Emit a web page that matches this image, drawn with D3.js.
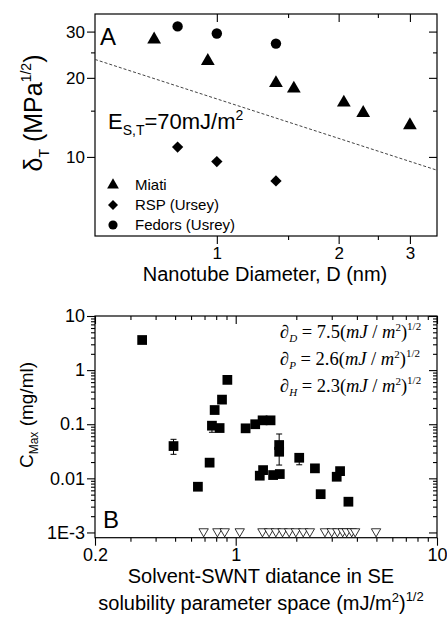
<!DOCTYPE html>
<html lang="en">
  <head>
    <meta charset="UTF-8" />
    <title>Solubility parameters of SWNT</title>
    <style>
      body {
        margin: 0;
        background: white;
      }
      svg {
        display: block;
        font-family: "Liberation Sans", Arial, sans-serif;
      }
      .frame {
        fill: none;
        stroke: black;
        stroke-width: 1.2;
      }
      .tick line {
        stroke: black;
        stroke-width: 1.1;
      }
      .fit-line {
        fill: none;
        stroke: #444;
        stroke-width: 1;
        stroke-dasharray: 3, 2;
      }
      .formula {
        font-family: "Liberation Serif", "Times New Roman", serif;
        font-size: 18.5px;
      }
    </style>
  </head>
  <body>
    <script src="https://d3js.org/d3.v7.min.js"></script>
    <script>
      // panel A : solubility parameter vs nanotube diameter
      const miatiD = [0.7, 0.95, 1.4, 1.55, 2.06, 2.3, 3.0];
      const miatiDelta = [28.0, 23.2, 19.1, 18.2, 16.1, 14.7, 13.2];
      const rspD = [0.8, 1.0, 1.4];
      const rspDelta = [10.9, 9.6, 8.1];
      const fedorsD = [0.8, 1.0, 1.4];
      const fedorsDelta = [31.4, 29.5, 27.0];
      const fitD = [0.5, 3.5];
      const fitDelta = [23.5, 8.9];
      const legendNames = ["Miati", "RSP (Ursey)", "Fedors (Usrey)"];
      const xTicksA = [1, 2, 3];
      const xMinorA = [1.5, 2.5];
      const yTicksA = [10, 20, 30];
      const yMinorA = [15, 25];

      // panel B : max concentration vs distance in solubility space
      const distB = [
        0.343, 0.491, 0.649, 0.742, 0.762, 0.786, 0.832, 0.855, 0.909, 1.12,
        1.25, 1.36, 1.49, 1.317, 1.368, 1.534, 1.656, 1.644, 1.644, 2.068,
        2.475, 2.643, 3.175, 3.3, 3.63,
      ];
      const cmaxB = [
        3.6, 0.0395, 0.007, 0.0195, 0.094, 0.183, 0.085, 0.285, 0.66, 0.084,
        0.1, 0.118, 0.118, 0.0112, 0.0142, 0.0115, 0.012, 0.0413, 0.031, 0.024,
        0.0153, 0.0051, 0.0107, 0.0136, 0.0037,
      ];
      const errX = [0.491, 0.762, 1.644, 2.068];
      const errLo = [0.0278, 0.071, 0.0176, 0.0178];
      const errHi = [0.0526, 0.111, 0.066, 0.026];
      const noneX = [
        0.693, 0.811, 0.882, 1.047, 1.358, 1.465, 1.583, 1.709, 1.843, 1.99,
        2.164, 2.336, 2.776, 3.0, 3.2, 3.4, 3.56, 3.77, 3.92, 4.98,
      ];
      const noneY = 0.001;
      const xTicksB = [0.2, 1, 10];
      const yTicksB = [10, 1, 0.1, 0.01, 0.001];
      const yLabelsB = ["10", "1", "0.1", "0.01", "1E-3"];
      const formulas = [
        { sym: "D", val: "7.5" },
        { sym: "P", val: "2.6" },
        { sym: "H", val: "2.3" },
      ];

      const width = 447;
      const height = 622;

      const svg = d3
        .select("body")
        .append("svg")
        .attr("width", width)
        .attr("height", height);

      // draws ticks on all four sides: outward on left/bottom, inward on top/right
      function drawAxes(g, x, y, xMaj, xMin, yMaj, yMin, xFmt, yFmt, fs) {
        const [x0, x1] = x.range();
        const [y0, y1] = y.range();

        const styleAxis = (sel) => {
          sel.select(".domain").remove();
          sel.selectAll("text").attr("font-size", fs).attr("fill", "black");
        };

        g.append("g")
          .attr("transform", `translate(0, ${y0})`)
          .call(d3.axisBottom(x).tickValues(xMaj).tickSize(8).tickPadding(3).tickFormat(xFmt))
          .call(styleAxis);
        g.append("g")
          .attr("transform", `translate(0, ${y0})`)
          .call(d3.axisBottom(x).tickValues(xMin).tickSize(4).tickFormat(""))
          .call(styleAxis);
        g.append("g")
          .attr("transform", `translate(0, ${y1})`)
          .call(d3.axisTop(x).tickValues(xMaj).tickSize(-8).tickFormat(""))
          .call(styleAxis);
        g.append("g")
          .attr("transform", `translate(0, ${y1})`)
          .call(d3.axisTop(x).tickValues(xMin).tickSize(-4).tickFormat(""))
          .call(styleAxis);

        g.append("g")
          .attr("transform", `translate(${x0}, 0)`)
          .call(d3.axisLeft(y).tickValues(yMaj).tickSize(8).tickPadding(2).tickFormat(yFmt))
          .call(styleAxis);
        g.append("g")
          .attr("transform", `translate(${x0}, 0)`)
          .call(d3.axisLeft(y).tickValues(yMin).tickSize(4).tickFormat(""))
          .call(styleAxis);
        g.append("g")
          .attr("transform", `translate(${x1}, 0)`)
          .call(d3.axisRight(y).tickValues(yMaj).tickSize(-8).tickFormat(""))
          .call(styleAxis);
        g.append("g")
          .attr("transform", `translate(${x1}, 0)`)
          .call(d3.axisRight(y).tickValues(yMin).tickSize(-4).tickFormat(""))
          .call(styleAxis);

        g.append("rect")
          .attr("class", "frame")
          .attr("x", x0)
          .attr("y", y1)
          .attr("width", x1 - x0)
          .attr("height", y0 - y1);
      }

      // ---------- panel A ----------
      const xA = d3.scaleLog().domain([0.5, 3.5]).range([95, 437]);
      const yA = d3.scaleLog().domain([5, 35]).range([236, 14]);
      const gA = svg.append("g");

      drawAxes(gA, xA, yA, xTicksA, xMinorA, yTicksA, yMinorA, d3.format("d"), d3.format("d"), 17);

      const fitLine = d3
        .line()
        .x((d) => xA(d[0]))
        .y((d) => yA(d[1]));

      gA.append("path")
        .attr("class", "fit-line")
        .attr("d", fitLine(d3.zip(fitD, fitDelta)));

      const triA = d3.symbol(d3.symbolTriangle, 82);
      const diaA = d3.symbol(d3.symbolSquare, 64);
      const cirA = d3.symbol(d3.symbolCircle, 85);

      gA.append("g")
        .selectAll("path")
        .data(d3.zip(miatiD, miatiDelta))
        .join("path")
        .attr("d", triA)
        .attr("transform", (d) => `translate(${xA(d[0])}, ${yA(d[1])})`);

      gA.append("g")
        .selectAll("path")
        .data(d3.zip(rspD, rspDelta))
        .join("path")
        .attr("d", diaA)
        .attr("transform", (d) => `translate(${xA(d[0])}, ${yA(d[1])}) rotate(45)`);

      gA.append("g")
        .selectAll("path")
        .data(d3.zip(fedorsD, fedorsDelta))
        .join("path")
        .attr("d", cirA)
        .attr("transform", (d) => `translate(${xA(d[0])}, ${yA(d[1])})`);

      // legend
      const legendSymbols = [
        { sym: d3.symbol(d3.symbolTriangle, 60), rot: 0 },
        { sym: d3.symbol(d3.symbolSquare, 50), rot: 45 },
        { sym: d3.symbol(d3.symbolCircle, 66), rot: 0 },
      ];
      const legend = gA
        .append("g")
        .selectAll("g")
        .data(legendNames)
        .join("g")
        .attr("transform", (d, i) => `translate(113, ${185 + i * 20})`);

      legend
        .append("path")
        .attr("d", (d, i) => legendSymbols[i].sym())
        .attr("transform", (d, i) => `rotate(${legendSymbols[i].rot})`);

      legend
        .append("text")
        .attr("x", 22)
        .attr("dy", "0.36em")
        .attr("font-size", 15)
        .text((d) => d);

      gA.append("text")
        .attr("x", 100)
        .attr("y", 45)
        .attr("font-size", 24)
        .text("A");

      const eLabel = gA
        .append("text")
        .attr("x", 108)
        .attr("y", 129)
        .attr("font-size", 22);
      eLabel.append("tspan").text("E");
      eLabel.append("tspan").attr("font-size", 14).attr("dy", 6).text("S,T");
      eLabel.append("tspan").attr("dy", -6).text("=70mJ/m");
      eLabel.append("tspan").attr("font-size", 14).attr("dy", -9).text("2");

      gA.append("text")
        .attr("x", 265)
        .attr("y", 281)
        .attr("text-anchor", "middle")
        .attr("font-size", 20)
        .text("Nanotube Diameter, D (nm)");

      const yTitleA = gA
        .append("text")
        .attr("transform", "rotate(-90)")
        .attr("x", -113)
        .attr("y", 42)
        .attr("text-anchor", "middle")
        .attr("font-size", 25);
      yTitleA.append("tspan").text("δ");
      yTitleA.append("tspan").attr("font-size", 14).attr("dy", 7).text("T");
      yTitleA.append("tspan").attr("dy", -7).text(" (MPa");
      yTitleA.append("tspan").attr("font-size", 14).attr("dy", -11).text("1/2");
      yTitleA.append("tspan").attr("dy", 11).text(")");

      // ---------- panel B ----------
      const xB = d3.scaleLog().domain([0.2, 10]).range([95, 437]);
      const yB = d3.scaleLog().domain([0.0008, 10]).range([537.7, 316]);
      const gB = svg.append("g");

      const xMinorB = xB.ticks().filter((t) => !xTicksB.includes(+t.toPrecision(3)));
      const yMinorB = yB
        .ticks()
        .filter((t) => t >= 0.001 && !yTicksB.includes(+t.toPrecision(3)));

      drawAxes(
        gB,
        xB,
        yB,
        xTicksB,
        xMinorB,
        yTicksB,
        yMinorB,
        (d) => String(d),
        (d, i) => yLabelsB[i],
        18
      );

      // error bars
      const errs = gB
        .append("g")
        .attr("stroke", "black")
        .attr("stroke-width", 1)
        .selectAll("g")
        .data(d3.zip(errX, errLo, errHi))
        .join("g");
      errs
        .append("line")
        .attr("x1", (d) => xB(d[0]))
        .attr("x2", (d) => xB(d[0]))
        .attr("y1", (d) => yB(d[1]))
        .attr("y2", (d) => yB(d[2]));
      errs
        .append("line")
        .attr("x1", (d) => xB(d[0]) - 3)
        .attr("x2", (d) => xB(d[0]) + 3)
        .attr("y1", (d) => yB(d[1]))
        .attr("y2", (d) => yB(d[1]));
      errs
        .append("line")
        .attr("x1", (d) => xB(d[0]) - 3)
        .attr("x2", (d) => xB(d[0]) + 3)
        .attr("y1", (d) => yB(d[2]))
        .attr("y2", (d) => yB(d[2]));

      const sqB = d3.symbol(d3.symbolSquare, 95);
      gB.append("g")
        .selectAll("path")
        .data(d3.zip(distB, cmaxB))
        .join("path")
        .attr("d", sqB)
        .attr("transform", (d) => `translate(${xB(d[0])}, ${yB(d[1])})`);

      const triB = d3.symbol(d3.symbolTriangle, 38);
      gB.append("g")
        .selectAll("path")
        .data(noneX)
        .join("path")
        .attr("d", triB)
        .attr("fill", "white")
        .attr("stroke", "black")
        .attr("stroke-width", 0.8)
        .attr("transform", (d) => `translate(${xB(d)}, ${yB(noneY) - 1}) rotate(180)`);

      gB.append("text")
        .attr("x", 103)
        .attr("y", 528)
        .attr("font-size", 24)
        .text("B");

      const fLines = gB
        .append("g")
        .attr("class", "formula")
        .selectAll("text")
        .data(formulas)
        .join("text")
        .attr("x", 280)
        .attr("y", (d, i) => 338 + i * 27);
      fLines.append("tspan").attr("font-style", "italic").text("∂");
      fLines
        .append("tspan")
        .attr("font-style", "italic")
        .attr("font-size", 11)
        .attr("dy", 4)
        .text((d) => d.sym);
      fLines.append("tspan").attr("dy", -4).text((d) => ` = ${d.val}(`);
      fLines.append("tspan").attr("font-style", "italic").text("mJ");
      fLines.append("tspan").text(" / ");
      fLines.append("tspan").attr("font-style", "italic").text("m");
      fLines.append("tspan").attr("font-size", 11).attr("dy", -7).text("2");
      fLines.append("tspan").attr("dy", 7).text(")");
      fLines.append("tspan").attr("font-size", 11).attr("dy", -8).text("1/2");

      gB.append("text")
        .attr("x", 261)
        .attr("y", 583)
        .attr("text-anchor", "middle")
        .attr("font-size", 20)
        .text("Solvent-SWNT diatance in SE");

      const xTitleB = gB
        .append("text")
        .attr("x", 261)
        .attr("y", 610)
        .attr("text-anchor", "middle")
        .attr("font-size", 20);
      xTitleB.append("tspan").text("solubility parameter space (mJ/m");
      xTitleB.append("tspan").attr("font-size", 13).attr("dy", -8).text("2");
      xTitleB.append("tspan").attr("dy", 8).text(")");
      xTitleB.append("tspan").attr("font-size", 13).attr("dy", -9).text("1/2");

      const yTitleB = gB
        .append("text")
        .attr("transform", "rotate(-90)")
        .attr("x", -415)
        .attr("y", 33)
        .attr("text-anchor", "middle")
        .attr("font-size", 19);
      yTitleB.append("tspan").text("C");
      yTitleB.append("tspan").attr("font-size", 12).attr("dy", 5).text("Max");
      yTitleB.append("tspan").attr("dy", -5).text(" (mg/ml)");
    </script>
  </body>
</html>
